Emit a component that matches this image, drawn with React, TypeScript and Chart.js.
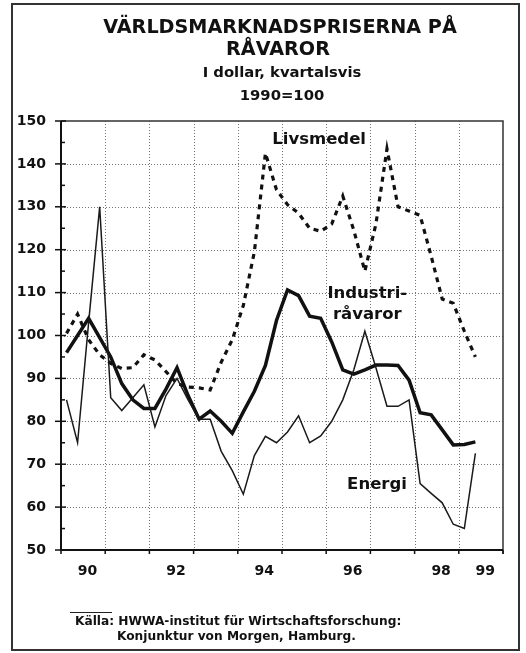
import React, { useEffect, useRef } from 'react';
import { Chart, registerables } from 'chart.js';

Chart.register(...registerables);

// Quarterly observations, 1990 K1 – 1999 K2 (index 1990=100)
const quarters = [
  '1990K1', '1990K2', '1990K3', '1990K4', '1991K1', '1991K2', '1991K3', '1991K4',
  '1992K1', '1992K2', '1992K3', '1992K4', '1993K1', '1993K2', '1993K3', '1993K4',
  '1994K1', '1994K2', '1994K3', '1994K4', '1995K1', '1995K2', '1995K3', '1995K4',
  '1996K1', '1996K2', '1996K3', '1996K4', '1997K1', '1997K2', '1997K3', '1997K4',
  '1998K1', '1998K2', '1998K3', '1998K4', '1999K1', '1999K2',
];

const livsmedel = [
  100.5, 105, 99, 95.5, 93.5, 92.3, 92.5, 95.5, 94.3, 91.6, 88.8, 88, 87.8, 87.3,
  93.8, 99, 107, 119.5, 142.5, 134, 130.5, 128.5, 125, 124.3, 126, 132.5, 124.5,
  115, 126, 143.5, 130, 129, 128, 118.5, 108.5, 107.5, 101, 95,
];

const industriravaror = [
  96, 100, 104, 99.5, 95, 88.8, 85, 83, 83, 87.5, 92.5, 86, 80.5, 82.4, 80, 77.2,
  82.2, 87, 93, 103.5, 110.6, 109.3, 104.5, 104, 98.5, 92, 91, 92, 93.1, 93.1, 93,
  89.6, 82, 81.5, 78, 74.5, 74.6, 75.2,
];

const energi = [
  85, 75, 103, 130, 85.5, 82.5, 85.5, 88.5, 78.7, 86, 90, 85, 80.5, 80.5, 73, 68.5,
  63, 72, 76.5, 75, 77.5, 81.3, 75, 76.6, 80, 85, 92, 101, 92.5, 83.5, 83.5, 85,
  65.5, 63.2, 61, 56, 55, 72.5,
];

const yTicks = [50, 60, 70, 80, 90, 100, 110, 120, 130, 140, 150];
const yMinorTicks = [55, 65, 75, 85, 95, 105, 115, 125, 135, 145];
const gridYears = [1990, 1991, 1992, 1993, 1994, 1995, 1996, 1997, 1998, 1999, 2000];
const labelYears = [1990, 1992, 1994, 1996, 1998, 1999];
const labelTexts = ['90', '92', '94', '96', '98', '99'];

const titleLines = ['VÄRLDSMARKNADSPRISERNA PÅ', 'RÅVAROR'];
const subtitleLines = ['I dollar, kvartalsvis', '1990=100'];
const sourceLines = ['Källa: HWWA-institut für Wirtschaftsforschung:', 'Konjunktur von Morgen, Hamburg.'];

// series label anchors in data units (year, index)
const seriesLabels = [
  { text: 'Livsmedel', x: 1995.84, y: 145.7 },
  { text: 'Industri-', x: 1996.93, y: 109.8 },
  { text: 'råvaror', x: 1996.93, y: 104.9 },
  { text: 'Energi', x: 1997.15, y: 65.2 },
];

const FONT = '"DejaVu Sans", "Liberation Sans", Arial, sans-serif';
const INK = '#111';

function quarterX(i: number) {
  const yr = parseInt(quarters[i].slice(0, 4), 10);
  const q = parseInt(quarters[i].slice(5), 10);
  return yr + (q - 0.5) / 4;
}

function series(values: number[]) {
  return values.map((v, i) => ({ x: quarterX(i), y: v }));
}

const decorPlugin = {
  id: 'decor',
  beforeDatasetsDraw(chart: any) {
    const { ctx, chartArea: a, scales } = chart;
    const x = scales.x;
    const y = scales.y;
    ctx.save();
    ctx.strokeStyle = 'rgba(70,70,70,0.75)';
    ctx.lineWidth = 1;
    ctx.setLineDash([1, 2]);
    gridYears.forEach((yr) => {
      if (yr === gridYears[0] || yr === gridYears[gridYears.length - 1]) return;
      const px = Math.round(x.getPixelForValue(yr)) + 0.5;
      ctx.beginPath();
      ctx.moveTo(px, a.top);
      ctx.lineTo(px, a.bottom);
      ctx.stroke();
    });
    yTicks.forEach((v) => {
      if (v === yTicks[0] || v === yTicks[yTicks.length - 1]) return;
      const py = Math.round(y.getPixelForValue(v)) + 0.5;
      ctx.beginPath();
      ctx.moveTo(a.left, py);
      ctx.lineTo(a.right, py);
      ctx.stroke();
    });
    ctx.restore();
  },
  afterDatasetsDraw(chart: any) {
    const { ctx, chartArea: a, scales } = chart;
    const x = scales.x;
    const y = scales.y;
    ctx.save();
    ctx.setLineDash([]);
    // top & right frame
    ctx.strokeStyle = '#333';
    ctx.lineWidth = 1.5;
    ctx.beginPath();
    ctx.moveTo(a.left, a.top);
    ctx.lineTo(a.right, a.top);
    ctx.lineTo(a.right, a.bottom + 4);
    ctx.stroke();
    // axes
    ctx.strokeStyle = INK;
    ctx.lineWidth = 2;
    ctx.beginPath();
    ctx.moveTo(a.left, a.top);
    ctx.lineTo(a.left, a.bottom);
    ctx.lineTo(a.right, a.bottom);
    ctx.stroke();
    // y ticks
    ctx.lineWidth = 1.5;
    yTicks.forEach((v) => {
      const py = y.getPixelForValue(v);
      ctx.beginPath();
      ctx.moveTo(a.left - 6, py);
      ctx.lineTo(a.left + 5, py);
      ctx.stroke();
    });
    yMinorTicks.forEach((v) => {
      const py = y.getPixelForValue(v);
      ctx.beginPath();
      ctx.moveTo(a.left, py);
      ctx.lineTo(a.left + 4, py);
      ctx.stroke();
    });
    // x ticks
    gridYears.forEach((yr) => {
      const px = x.getPixelForValue(yr);
      ctx.beginPath();
      ctx.moveTo(px, a.bottom);
      ctx.lineTo(px, a.bottom + 4);
      ctx.stroke();
    });
    // series labels
    ctx.fillStyle = INK;
    ctx.font = `bold 16.5px ${FONT}`;
    ctx.textAlign = 'center';
    ctx.textBaseline = 'middle';
    seriesLabels.forEach((l) => {
      ctx.fillText(l.text, x.getPixelForValue(l.x), y.getPixelForValue(l.y));
    });
    ctx.restore();
  },
  afterDraw(chart: any) {
    const { ctx } = chart;
    ctx.save();
    ctx.fillStyle = INK;
    ctx.textAlign = 'center';
    ctx.textBaseline = 'middle';
    ctx.font = `bold 19.2px ${FONT}`;
    ctx.fillText(titleLines[0], 280, 28);
    ctx.fillText(titleLines[1], 278, 50);
    ctx.font = `bold 14.8px ${FONT}`;
    ctx.fillText(subtitleLines[0], 282, 73);
    ctx.fillText(subtitleLines[1], 282, 96);
    // source
    ctx.textAlign = 'left';
    ctx.font = `bold 12.2px ${FONT}`;
    ctx.fillText(sourceLines[0], 75, 622);
    ctx.fillText(sourceLines[1], 117, 637);
    ctx.strokeStyle = '#222';
    ctx.lineWidth = 1;
    ctx.beginPath();
    ctx.moveTo(70, 612.5);
    ctx.lineTo(112, 612.5);
    ctx.stroke();
    // outer frame
    ctx.strokeStyle = '#333';
    ctx.lineWidth = 2;
    ctx.strokeRect(12, 4, 507, 646);
    ctx.restore();
  },
};

export default function App() {
  const ref = useRef<HTMLCanvasElement | null>(null);

  useEffect(() => {
    if (!ref.current) return;
    const chart = new Chart(ref.current, {
      type: 'line',
      data: {
        datasets: [
          {
            label: 'Energi',
            data: series(energi),
            borderColor: '#1a1a1a',
            borderWidth: 1.5,
            pointRadius: 0,
            tension: 0,
          },
          {
            label: 'Livsmedel',
            data: series(livsmedel),
            borderColor: INK,
            borderWidth: 3.2,
            borderDash: [5, 5],
            borderCapStyle: 'butt',
            pointRadius: 0,
            tension: 0,
          },
          {
            label: 'Industriråvaror',
            data: series(industriravaror),
            borderColor: INK,
            borderWidth: 3.5,
            borderJoinStyle: 'miter',
            pointRadius: 0,
            tension: 0,
          },
        ],
      },
      options: {
        animation: false,
        responsive: false,
        maintainAspectRatio: false,
        layout: { padding: { left: 0, top: 121, right: 23, bottom: 63 } },
        plugins: {
          legend: { display: false },
          tooltip: { enabled: false },
          title: { display: false },
        },
        scales: {
          x: {
            type: 'linear',
            min: 1990,
            max: 2000,
            grid: { display: false, drawTicks: false },
            border: { display: false },
            afterBuildTicks: (s: any) => {
              s.ticks = labelYears.map((v) => ({ value: v + 0.6 }));
            },
            afterFit: (s: any) => {
              s.height = 40;
            },
            ticks: {
              autoSkip: false,
              maxRotation: 0,
              padding: 13,
              color: INK,
              font: { family: FONT, weight: 'bold', size: 14 },
              callback: (v: any) => {
                const idx = labelYears.findIndex((yr) => Math.abs(yr + 0.6 - Number(v)) < 0.01);
                return idx >= 0 ? labelTexts[idx] : '';
              },
            },
          },
          y: {
            type: 'linear',
            min: 50,
            max: 150,
            grid: { display: false, drawTicks: false },
            border: { display: false },
            afterBuildTicks: (s: any) => {
              s.ticks = yTicks.map((v) => ({ value: v }));
            },
            afterFit: (s: any) => {
              s.width = 61;
            },
            ticks: {
              padding: 15,
              color: INK,
              font: { family: FONT, weight: 'bold', size: 14 },
            },
          },
        },
      },
      plugins: [decorPlugin],
    } as any);
    return () => chart.destroy();
  }, []);

  return (
    <div style={{ position: 'absolute', left: 0, top: 0, width: 526, height: 653, background: '#fff' }}>
      <canvas ref={ref} width={526} height={653} style={{ display: 'block', width: 526, height: 653 }} />
    </div>
  );
}
